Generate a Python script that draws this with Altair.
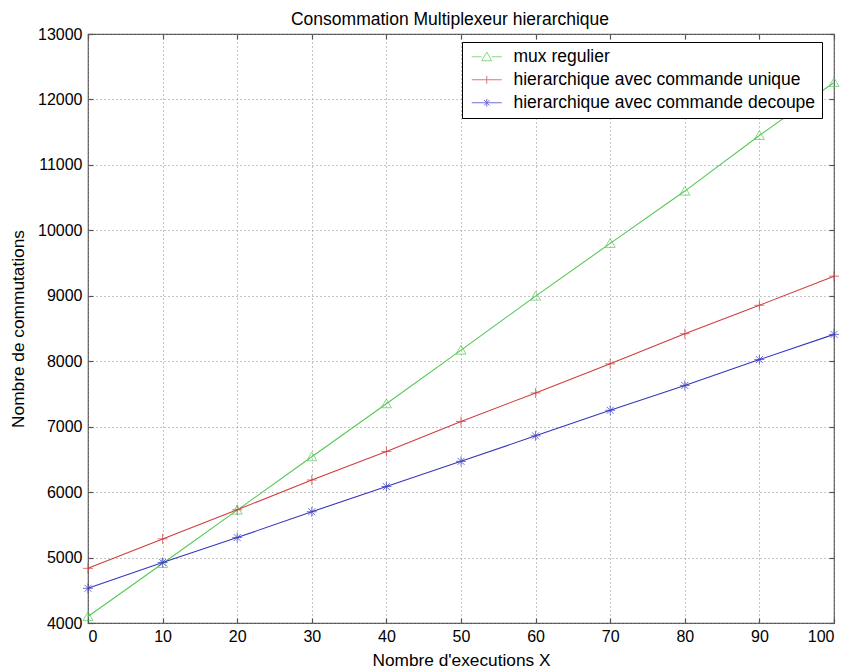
import altair as alt
import pandas as pd

x_vals = [0, 10, 20, 30, 40, 50, 60, 70, 80, 90, 100]
mux_regulier = [4100, 4910, 5725, 6540, 7350, 8170, 8995, 9800, 10600, 11450, 12260]
hier_unique = [4835, 5285, 5730, 6185, 6620, 7080, 7515, 7960, 8420, 8855, 9300]
hier_decoupe = [4530, 4925, 5305, 5700, 6085, 6470, 6860, 7250, 7630, 8025, 8410]

series_names = ["mux regulier", "hierarchique avec commande unique", "hierarchique avec commande decoupe"]
series_values = [mux_regulier, hier_unique, hier_decoupe]
colors = ["#55c855", "#d03c3c", "#3535c0"]

rows = []
for name, vals in zip(series_names, series_values):
    for xv, yv in zip(x_vals, vals):
        rows.append({"x": xv, "y": yv, "serie": name})
df = pd.DataFrame(rows)

tri = "M-1,0.8L0,-0.95L1,0.8Z"
plus = "M-1,0L1,0M0,-1L0,1"
star = "M-1,0L1,0M0,-1L0,1M-0.7,-0.7L0.7,0.7M-0.7,0.7L0.7,-0.7"
marker_paths = [tri, plus, star]

# legend symbols: line segment + marker
leg_tri = "M-1,0L1,0M3,0L5,0M1,0.8L2,-0.95L3,0.8Z"
leg_plus = "M-1,0L5,0M2,-0.8L2,0.8"
leg_star = "M-1,0L5,0M2,-0.8L2,0.8M1.45,-0.55L2.55,0.55M1.45,0.55L2.55,-0.55"
legend_paths = [leg_tri, leg_plus, leg_star]

FONT = "Liberation Sans"
W, H = 746, 589

xscale = alt.Scale(domain=[0, 100], nice=False)
yscale = alt.Scale(domain=[4000, 13000], nice=False)
cscale = alt.Scale(domain=series_names, range=colors)
sscale = alt.Scale(domain=series_names, range=marker_paths)
lscale = alt.Scale(domain=series_names, range=legend_paths)

xticks = list(range(0, 101, 10))
yticks = list(range(4000, 13001, 1000))

base = alt.Chart(df)

lines = base.mark_line(strokeWidth=1.1).encode(
    x=alt.X("x:Q", scale=xscale, axis=alt.Axis(
        values=xticks, title="Nombre d'executions X", grid=True, ticks=False,
        labelPadding=5, titlePadding=7, domain=False, format="d")),
    y=alt.Y("y:Q", scale=yscale, axis=alt.Axis(
        values=yticks, title="Nombre de commutations", grid=True, ticks=False,
        labelPadding=6, titlePadding=10, domain=False, format="d")),
    color=alt.Color("serie:N", scale=cscale, legend=None),
    detail="serie:N",
)

points = base.mark_point(filled=False, size=100, strokeWidth=1).encode(
    x=alt.X("x:Q", scale=xscale, axis=alt.Axis(
        orient="top", offset=-H, values=xticks, labels=False, grid=False,
        domain=False, ticks=True, tickSize=5, title=None)),
    y=alt.Y("y:Q", scale=yscale, axis=alt.Axis(
        orient="right", offset=-W, values=yticks, labels=False, grid=False,
        domain=False, ticks=True, tickSize=5, title=None)),
    color=alt.Color("serie:N", scale=cscale, legend=None),
    shape=alt.Shape("serie:N", scale=sscale, legend=None),
)

leg_opts = dict(
    title=None, orient="none", legendX=374, legendY=8,
    symbolSize=100, symbolStrokeWidth=1, labelFontSize=17.5, labelFont=FONT,
    labelColor="#000000", labelOffset=28, labelLimit=500, rowPadding=4, padding=6,
    strokeColor="#000000", fillColor="#ffffff",
)

legend_layer = base.transform_filter("datum.x < -1000").mark_point(
    filled=False, size=100, strokeWidth=1
).encode(
    x=alt.X("x:Q", scale=xscale, axis=alt.Axis(
        orient="bottom", offset=-H, values=xticks, labels=False, grid=False,
        domain=False, ticks=True, tickSize=5, title=None)),
    y=alt.Y("y:Q", scale=yscale, axis=alt.Axis(
        orient="left", offset=-W, values=yticks, labels=False, grid=False,
        domain=False, ticks=True, tickSize=5, title=None)),
    color=alt.Color("serie:N", scale=cscale, legend=alt.Legend(**leg_opts)),
    shape=alt.Shape("serie:N", scale=lscale, legend=alt.Legend(**leg_opts)),
)

chart = alt.layer(lines, points, legend_layer).resolve_axis(
    x="independent", y="independent"
).resolve_scale(
    color="independent", shape="independent"
).properties(
    width=W, height=H,
    autosize=alt.AutoSizeParams(type="none"),
    padding={"left": 80, "top": 26, "right": 8, "bottom": 52},
    title=alt.TitleParams("Consommation Multiplexeur hierarchique", fontSize=17.5,
                          font=FONT, fontWeight="normal", color="#000000",
                          anchor="middle", offset=0, dx=-11, dy=2),
).configure_view(
    stroke="#555555", strokeWidth=1.2
).configure_axis(
    labelFont=FONT, titleFont=FONT, labelFontSize=16, titleFontSize=17.3,
    labelColor="#000000", titleColor="#000000", titleFontWeight="normal",
    gridColor="#8a8a8a", gridDash=[1, 3], gridWidth=1,
    tickColor="#555555", tickWidth=1.2,
)

chart.save("out.html", embed_options={"renderer": "svg", "actions": False})
